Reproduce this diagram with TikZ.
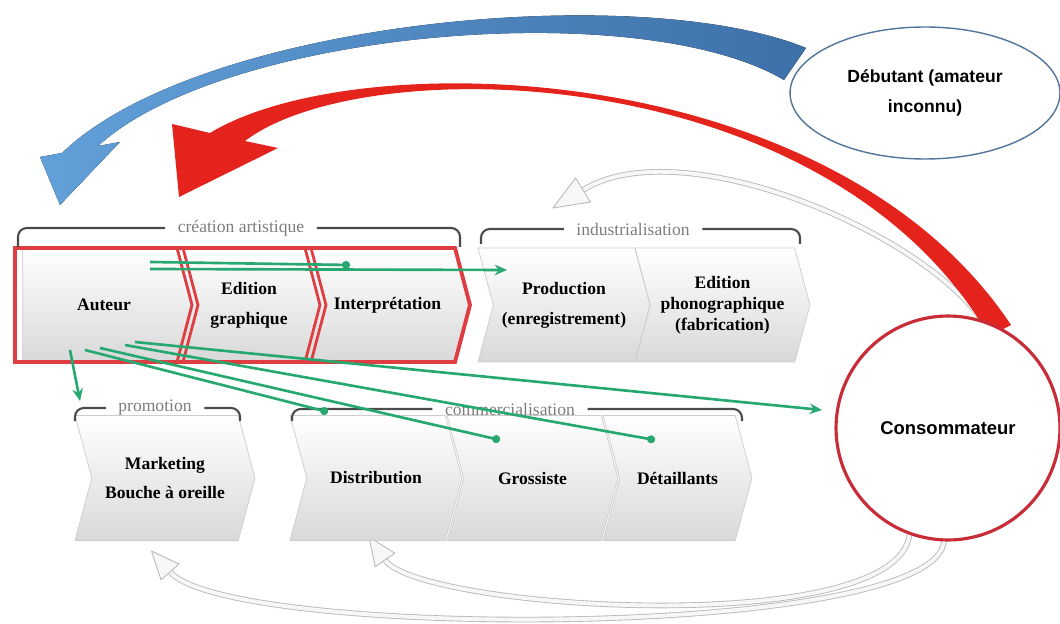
\documentclass[tikz,border=0pt]{standalone}
\usepackage{fontspec}
\setmainfont{Liberation Serif}
\newfontfamily\sansf{Liberation Sans}
\usetikzlibrary{shapes.symbols,shapes.geometric,arrows.meta,calc}
\definecolor{redc}{RGB}{228,36,28}
\definecolor{redframe}{RGB}{222,62,66}
\definecolor{redcirc}{RGB}{200,45,55}
\definecolor{bluel}{RGB}{98,160,218}
\definecolor{blued}{RGB}{62,112,168}
\definecolor{gline}{RGB}{38,168,112}
\definecolor{brk}{RGB}{75,75,75}
\definecolor{lbl}{RGB}{125,125,125}
\begin{document}
\begin{tikzpicture}[x=0.02cm,y=-0.02cm,
  chev/.style={signal, signal to=east, signal from=west, signal pointer angle=150,
    draw=gray!40, line width=0.4pt, top color=white, bottom color=gray!30,
    inner sep=0pt, align=center, font=\bfseries\fontsize{10}{17}\selectfont},
  toprow/.style={minimum height=2.28cm},
  botrow/.style={minimum height=2.5cm},
  brline/.style={draw=brk, line width=1.2pt, rounded corners=5pt},
  brlabel/.style={text=lbl, font=\fontsize{10}{12}\selectfont, inner ysep=1pt, inner xsep=7pt},
  grayarr/.style={draw=gray!55, double=gray!6, double distance=2.2pt, line width=0.5pt},
  grayhead/.style={draw=gray!55, fill=gray!6, line width=0.5pt, line join=round},
  gln/.style={draw=gline, line width=1.5pt},
  gto/.style={gln, -{Stealth[length=7pt,width=6pt]}},
  gdot/.style={gln, -{Circle[length=4.5pt]}},
  redjoint/.style={draw=redframe, line width=1.6pt}
]
\useasboundingbox (0,0) rectangle (1060,624);

% ---- gray return arrows (behind) ----
\node[circle, minimum size=4.48cm, inner sep=0pt] (consp) at (948,428) {};
\coordinate (g1e) at (583,190);
\draw[grayarr] (consp.72) .. controls (920,230) and (680,130) .. (g1e);
\filldraw[grayhead] (575.6,178) -- (553,208) -- (590.4,202) -- cycle;
\coordinate (g2e) at (385,560);
\draw[grayarr] (consp.250) .. controls (900,640) and (420,610) .. (g2e);
\filldraw[grayhead] (394.8,553.2) -- (369,537) -- (375.2,566.8) -- cycle;
\coordinate (g3e) at (170,572);
\draw[grayarr] (consp.268) .. controls (940,640) and (230,640) .. (g3e);
\filldraw[grayhead] (179,564.1) -- (151.5,551) -- (161,579.9) -- cycle;

% ---- top row ----
\node[chev, toprow, signal from=nowhere, minimum width=3.56cm] (auteur) at (104,305) {Auteur};
\node[chev, toprow, minimum width=2.84cm] (edg) at (249,305) {Edition\\graphique};
\node[chev, toprow, minimum width=3.3cm] (interp) at (387.5,305) {Interprétation};
\node[chev, toprow, minimum width=3.44cm] (prod) at (564,305) {Production\\(enregistrement)};
\node[chev, toprow, minimum width=3.5cm, font=\bfseries\fontsize{10}{12}\selectfont] (edp) at (722.5,305) {Edition\\phonographique\\(fabrication)};

% ---- bottom row ----
\node[chev, botrow, minimum width=3.6cm] (mkt) at (165,478) {Marketing\\Bouche à oreille};
\node[chev, botrow, minimum width=3.44cm] (distr) at (376,478) {Distribution};
\node[chev, botrow, minimum width=3.42cm] (gross) at (532.5,478) {Grossiste};
\node[chev, botrow, minimum width=2.98cm] (detail) at (677.5,478) {Détaillants};

% ---- red frame around creation ----
\draw[draw=redframe, line width=2.2pt, line join=miter]
  (15,248) -- (455,248) -- (470,305) -- (455,362) -- (15,362) -- cycle;
\draw[redjoint] (177,248) -- (192,305) -- (177,362);
\draw[redjoint] (183,248) -- (198,305) -- (183,362);
\draw[redjoint] (305,248) -- (320,305) -- (305,362);
\draw[redjoint] (311,248) -- (326,305) -- (311,362);

% ---- brackets ----
\node[brlabel] (lcrea) at (241,228) {création artistique};
\draw[brline] (18,247) |- (lcrea.west);
\draw[brline] (lcrea.east) -| (460,247);
\node[brlabel] (lind) at (633,229) {industrialisation};
\draw[brline] (481,244) |- (lind.west);
\draw[brline] (lind.east) -| (800,244);
\node[brlabel] (lpro) at (155,408) {promotion};
\draw[brline] (75,421) |- (lpro.west);
\draw[brline] (lpro.east) -| (240,421);
\node[brlabel] (lcom) at (510,409) {commercialisation};
\draw[brline] (292,421) |- (lcom.west);
\draw[brline] (lcom.east) -| (742,421);

% ---- green connectors ----
\coordinate (ga1) at (150,262); \coordinate (gb1) at (350,265);
\coordinate (ga2) at (150,269); \coordinate (gb2) at (507,270);
\coordinate (ga3) at (70,350);  \coordinate (gb3) at (80,401);
\coordinate (ga4) at (85,350);  \coordinate (gb4) at (328,412);
\coordinate (ga5) at (100,348); \coordinate (gb5) at (500,440);
\coordinate (ga6) at (125,345); \coordinate (gb6) at (655,440);
\coordinate (ga7) at (135,342); \coordinate (gb7) at (822,410);
\draw[gdot] (ga1) -- (gb1);
\draw[gto] (ga2) -- (gb2);
\draw[gto] (ga3) -- (gb3);
\draw[gdot] (ga4) -- (gb4);
\draw[gdot] (ga5) -- (gb5);
\draw[gdot] (ga6) -- (gb6);
\draw[gto] (ga7) -- (gb7);

% ---- big blue arrow ----
\fill[left color=bluel, right color=blued]
  (806,48) .. controls (640,-20) and (200,20) .. (62,153)
  -- (40,157) -- (60,205) -- (120,142) -- (98,146)
  .. controls (225,30) and (640,-5) .. (784,80) -- cycle;

% ---- big red arrow ----
\fill[redc]
  (1011,325) .. controls (832,56) and (356,44) .. (210,133)
  -- (172,124) -- (179,197) -- (278,148) -- (245,141)
  .. controls (364,50) and (828,58) .. (989,336) -- cycle;

% ---- ellipse and circle ----
\node[ellipse, draw=blued!70!gray, line width=0.8pt, fill=white,
  minimum width=5.4cm, minimum height=2.64cm, align=center,
  font=\sansf\bfseries\fontsize{10}{17}\selectfont] (deb) at (925,93)
  {Débutant (amateur\\inconnu)};
\node[circle, draw=redcirc, line width=1.8pt, fill=white,
  minimum size=4.48cm, inner sep=0pt,
  font=\sansf\bfseries\fontsize{10.5}{12}\selectfont] (cons) at (948,428) {Consommateur};
\end{tikzpicture}
\end{document}
